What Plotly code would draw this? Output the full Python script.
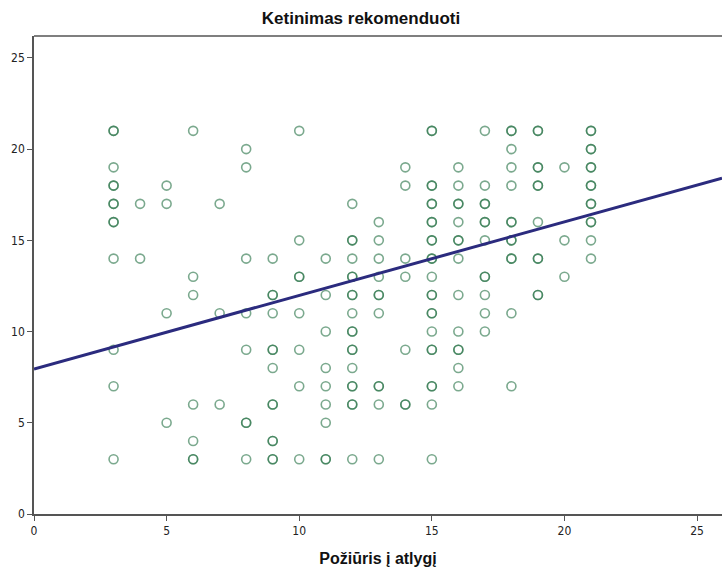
import plotly.graph_objects as go

# Column-wise data: x value -> list of (y, count) where count>1 means overlapping cases
x_cols = [3, 4, 5, 6, 7, 8, 9, 10, 11, 12, 13, 14, 15, 16, 17, 18, 19, 20, 21]
y_cols = [
    [(21, 2), (19, 1), (18, 2), (17, 2), (16, 2), (14, 1), (9, 1), (7, 1), (3, 1)],
    [(17, 1), (14, 1)],
    [(18, 1), (17, 1), (11, 1), (5, 1)],
    [(21, 1), (13, 1), (12, 1), (6, 1), (4, 1), (3, 2)],
    [(17, 1), (11, 1), (6, 1)],
    [(20, 1), (19, 1), (14, 1), (11, 1), (9, 1), (5, 2), (3, 1)],
    [(14, 1), (12, 2), (11, 1), (9, 2), (8, 1), (6, 2), (4, 2), (3, 2)],
    [(21, 1), (15, 1), (13, 2), (11, 1), (9, 1), (7, 1), (3, 1)],
    [(14, 1), (12, 1), (10, 1), (8, 1), (7, 1), (6, 1), (5, 1), (3, 2)],
    [(17, 1), (15, 2), (14, 1), (13, 2), (12, 2), (11, 1), (10, 2), (9, 2), (8, 1), (7, 2), (6, 2), (3, 1)],
    [(16, 1), (15, 1), (14, 1), (13, 1), (12, 2), (11, 1), (7, 2), (6, 1), (3, 1)],
    [(19, 1), (18, 1), (14, 1), (13, 1), (9, 1), (6, 2)],
    [(21, 2), (18, 2), (17, 2), (16, 2), (15, 2), (14, 2), (13, 1), (12, 2), (11, 2), (10, 1), (9, 2), (7, 2), (6, 1), (3, 1)],
    [(19, 1), (18, 1), (17, 2), (16, 1), (15, 2), (14, 1), (12, 1), (10, 1), (9, 2), (8, 1), (7, 1)],
    [(21, 1), (18, 1), (17, 2), (16, 2), (15, 1), (13, 2), (12, 1), (11, 1), (10, 1)],
    [(21, 2), (20, 1), (19, 1), (18, 1), (16, 2), (15, 2), (14, 2), (11, 1), (7, 1)],
    [(21, 2), (19, 2), (18, 2), (16, 1), (14, 2), (12, 2)],
    [(19, 1), (15, 1), (13, 1)],
    [(21, 2), (20, 2), (19, 2), (18, 2), (17, 2), (16, 2), (15, 1), (14, 1)],
]

# Fit line coefficients
fit_intercept = 7.95
fit_slope = 0.403

x_range = [0, 25.94]
y_range = [0, 26.2]
tick_vals = [0, 5, 10, 15, 20, 25]

xs, ys = [], []
for xv, col in zip(x_cols, y_cols):
    for yv, c in col:
        for _ in range(c):
            xs.append(xv)
            ys.append(yv)

fig = go.Figure()
fig.add_trace(go.Scatter(
    x=xs, y=ys, mode="markers",
    marker=dict(symbol="circle-open", size=9, color="#2a7548", opacity=0.62,
                line=dict(width=1.6, color="#2a7548")),
    hoverinfo="skip", showlegend=False,
))
fig.add_trace(go.Scatter(
    x=x_range, y=[fit_intercept + fit_slope * v for v in x_range],
    mode="lines", line=dict(color="#2b2b7e", width=3),
    hoverinfo="skip", showlegend=False,
))

axis_common = dict(
    showgrid=False, zeroline=False, showline=True, linecolor="#555555", linewidth=1.5,
    ticks="outside", ticklen=5, tickwidth=1.2, tickcolor="#555555",
    tickvals=tick_vals, tickfont=dict(family="DejaVu Sans Condensed, Liberation Sans Narrow, Liberation Sans", size=12, color="#222222"),
)
fig.update_xaxes(range=x_range, mirror=False, **axis_common,
                 title=dict(text="<b>Požiūris į atlygį</b>", font=dict(family="Liberation Sans, Arial", size=16, color="#111111"), standoff=16))
fig.update_yaxes(range=y_range, mirror=False, **axis_common)

fig.update_layout(
    width=722, height=567,
    margin=dict(l=34, r=0, t=36, b=53),
    paper_bgcolor="white", plot_bgcolor="white",
    title=dict(text="<b>Ketinimas rekomenduoti</b>", x=0.5, xanchor="center", y=0.968, yanchor="middle",
               font=dict(family="Liberation Sans, Arial", size=17, color="#111111")),
    shapes=[dict(type="line", xref="paper", yref="paper", x0=0, x1=1, y0=1, y1=1,
                 line=dict(color="#555555", width=1.5))],
)

fig.write_html("out.html")
